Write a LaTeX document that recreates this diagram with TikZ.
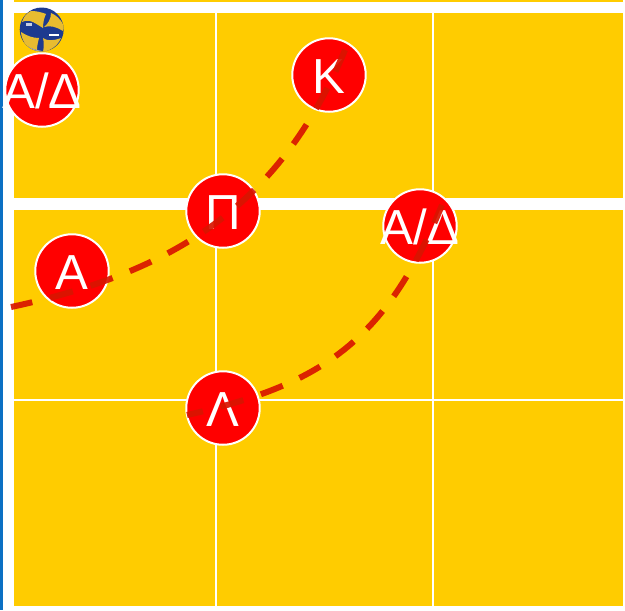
\documentclass[tikz,border=0pt]{standalone}
\usepackage{fontspec}
\setmainfont{Liberation Sans}
\usetikzlibrary{positioning,calc}
\definecolor{courtyellow}{HTML}{FFCC00}
\definecolor{stripblue}{HTML}{0B70C4}
\definecolor{runred}{HTML}{D81500}
\definecolor{ballblue}{HTML}{1D3A8F}
\definecolor{ballyellow}{HTML}{E8BC30}
\newcommand{\wide}[1]{\makebox[0pt]{#1}}
\begin{document}
\begin{tikzpicture}[x=0.02cm,y=-0.02cm,
  player/.style={circle,fill=red,draw=white,line width=0.04cm,minimum size=1.47cm,inner sep=0pt,text=white,text height=21pt,text depth=0pt,font=\fontsize{28}{28}\selectfont},
  run/.style={draw=runred,opacity=0.92,line width=0.12cm,dash pattern=on 0.47cm off 0.37cm},
  gridline/.style={draw=white,line width=0.04cm}]
% 1 unit = 1 pixel of the reference, y runs downwards.
\useasboundingbox (0,0) rectangle (625,610);
\fill[white] (0,0) rectangle (625,610);
\fill[stripblue] (0,0) rectangle (3,610);
\fill[courtyellow] (14,0) rectangle (623,1.5);
\fill[courtyellow] (14,13) rectangle (623,198);
\fill[courtyellow] (14,210) rectangle (623,606);
% Grid lines over the court.
\draw[gridline] (216,13) -- (216,198);
\draw[gridline] (216,210) -- (216,606);
\draw[gridline] (433,13) -- (433,198);
\draw[gridline] (433,210) -- (433,606);
\draw[gridline] (14,399.5) -- (623,399.5);
% Ball.
\node[circle,fill=ballblue,minimum size=0.88cm,inner sep=0pt] (ball) at (41.7,29.5) {};
\begin{scope}
\clip (41.7,29.5) circle (22);
\fill[ballyellow] (22,22) .. controls (24,16) and (27,13) .. (31,11) .. controls (36,11) and (41,12) .. (46,14) .. controls (44,18) and (43,23) .. (43,28) .. controls (38,25) and (34,22) .. (30,21) .. controls (27,20) and (24,21) .. (22,22);
\fill[ballyellow] (51,13) .. controls (56,15) and (60,19) .. (63,24) .. controls (64,27) and (64,29) .. (63,31) .. controls (57,27) and (50,25) .. (44,27) .. controls (48,24) and (51,19) .. (51,13);
\fill[ballyellow] (61,38) .. controls (59,43) and (55,47) .. (51,49) .. controls (48,51) and (46,52) .. (43,52) .. controls (44,47) and (44,42) .. (43,38) .. controls (47,41) and (53,41) .. (61,38);
\fill[ballyellow] (21,32) .. controls (27,36) and (33,38) .. (39,38) .. controls (38,42) and (37,46) .. (37,50) .. controls (32,49) and (28,47) .. (25,44) .. controls (23,40) and (21,36) .. (21,32);
\fill[black!35] (25,45) .. controls (30,48) and (36,50) .. (42,51) -- (42,53) -- (25,50) -- cycle;
\fill[white] (49,33.5) rectangle (59,35.5);
\fill[white!75!ballblue] (26,22.5) rectangle (32,25.5);
\end{scope}
% Players.
\node[player] (adleft) at (42,90) {\wide{Α/Δ}};
\node[player] (kappa) at (329,75) {Κ};
\node[player] (pi) at (223,211) {Π};
\node[player] (alpha) at (72,271) {Α};
\node[player] (adright) at (420,226) {\wide{Α/Δ}};
\node[player] (lambda) at (223,408) {Λ};
% Runs are dashed and lie on top of the players.
\coordinate (kappaend) at ($(kappa)+(16,-25)$);
\coordinate (netleft) at (11,307);
\coordinate (adend) at ($(adright)+(22,-21)$);
\coordinate (lambdaend) at ($(lambda)+(-36,7)$);
\draw[run] (kappaend) .. controls (280,205) and (175,272) .. (netleft);
\draw[run,dash phase=0.08cm] (adend) .. controls (385,343) and (320,385) .. (lambdaend);
\end{tikzpicture}
\end{document}
